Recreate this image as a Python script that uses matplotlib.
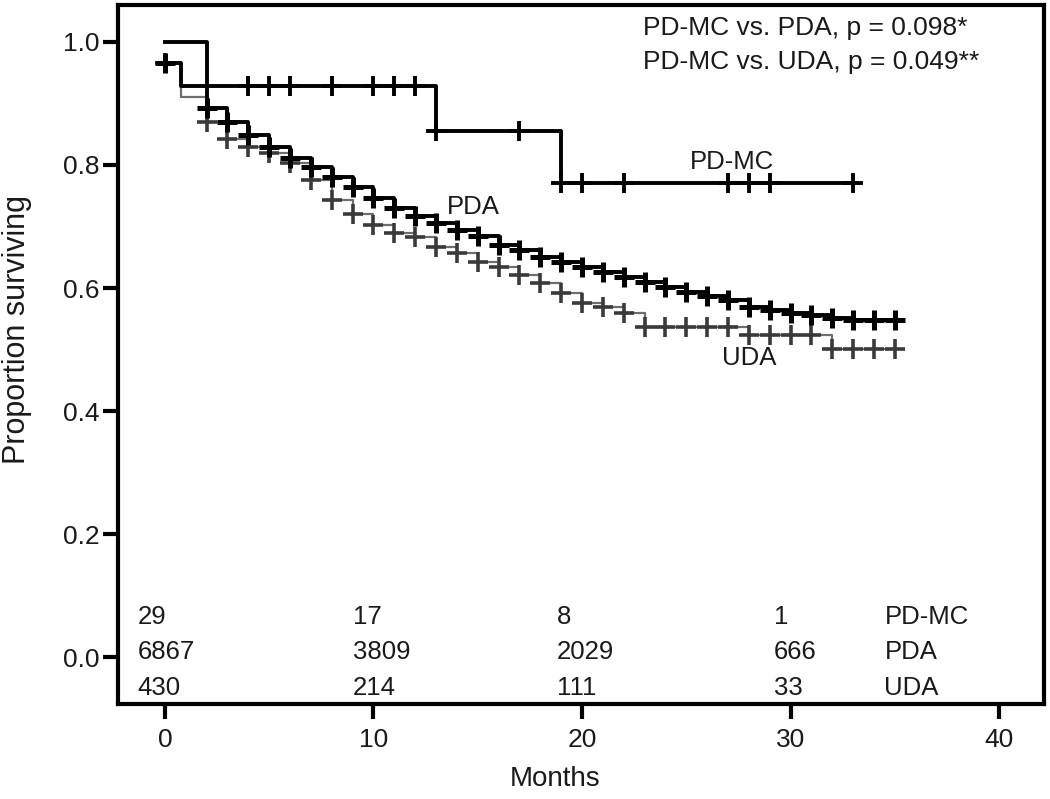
import numpy as np
import matplotlib

matplotlib.use("Agg")
import matplotlib.pyplot as plt
from matplotlib import font_manager


# survival curves (months, proportion surviving), step after each time
pdmc_t = [0, 2, 13, 19, 33]
pdmc_s = [1.0, 0.928, 0.855, 0.770, 0.770]
pdmc_cens = [4, 5, 6, 8, 10, 11, 12, 13, 17, 19, 20, 22, 27, 28, 29, 33]

pda_t = [0, 0.75, 2, 3, 4, 5, 6, 7, 8, 9, 10, 11, 12, 13, 14, 15, 16, 17, 18,
         19, 20, 21, 22, 23, 24, 25, 26, 27, 28, 29, 30, 31, 32, 33, 35]
pda_s = [0.965, 0.928, 0.892, 0.870, 0.849, 0.830, 0.811, 0.797, 0.781, 0.765,
         0.746, 0.730, 0.717, 0.705, 0.694, 0.684, 0.670, 0.662, 0.650, 0.642,
         0.634, 0.626, 0.618, 0.610, 0.602, 0.593, 0.587, 0.580, 0.569, 0.564,
         0.559, 0.556, 0.551, 0.548, 0.548]
pda_cens = [0, 2, 3, 4, 5, 6, 7, 8, 9, 10, 11, 12, 13, 14, 15, 16, 17, 18, 19,
            20, 21, 22, 23, 24, 25, 26, 27, 28, 29, 30, 31, 32, 33, 34, 35]

uda_t = [0, 0.75, 2, 3, 4, 5, 6, 7, 8, 9, 10, 11, 12, 13, 14, 15, 16, 17, 18,
         19, 20, 21, 22, 23, 28, 32, 35]
uda_s = [0.965, 0.911, 0.870, 0.843, 0.830, 0.819, 0.803, 0.776, 0.743, 0.721,
         0.702, 0.690, 0.683, 0.667, 0.657, 0.642, 0.634, 0.621, 0.608, 0.592,
         0.576, 0.569, 0.559, 0.536, 0.524, 0.501, 0.501]
uda_cens = [0, 2, 3, 4, 5, 6, 7, 8, 9, 10, 11, 12, 13, 14, 15, 16, 17, 18, 19,
            20, 21, 22, 23, 24, 25, 26, 27, 28, 29, 30, 31, 32, 33, 34, 35]

# numbers at risk
risk_times = [0, 10, 20, 30]
risk_groups = ["PD-MC", "PDA", "UDA"]
risk_pdmc = [29, 17, 8, 1]
risk_pda = [6867, 3809, 2029, 666]
risk_uda = [430, 214, 111, 33]

x_ticks = [0, 10, 20, 30, 40]
y_ticks = [0.0, 0.2, 0.4, 0.6, 0.8, 1.0]
p_lines = ["PD-MC vs. PDA, p = 0.098*", "PD-MC vs. UDA, p = 0.049**"]


def level_at(times, surv, when):
    idx = np.searchsorted(np.asarray(times), np.asarray(when), side="right") - 1
    return np.asarray(surv)[np.clip(idx, 0, len(surv) - 1)]


names = {f.name for f in font_manager.fontManager.ttflist}
family = "Liberation Sans" if "Liberation Sans" in names else "DejaVu Sans"
plt.rcParams["font.family"] = [family, "DejaVu Sans"]
text_color = "#1a1a1a"

fig = plt.figure(figsize=(10.5, 7.99), dpi=100)
ax = fig.add_axes([118 / 1050, 1 - 704 / 799, 926 / 1050, 699 / 799])
ax.set_xlim(-2.25, 42.15)
ax.set_ylim(-0.076, 1.060)

# UDA (grey)
ax.step(uda_t, uda_s, where="post", color="#6e6e6e", lw=1.6, zorder=2)
ax.plot(uda_cens, level_at(uda_t, uda_s, uda_cens), ls="none", marker="+",
        ms=14, mew=2.6, color="#3a3a3a", zorder=3)

# PDA (black, heavy)
ax.step(pda_t, pda_s, where="post", color="black", lw=2.8, zorder=4)
ax.plot(pda_cens, level_at(pda_t, pda_s, pda_cens), ls="none", marker="+",
        ms=14, mew=3.6, color="black", zorder=5)

# PD-MC
ax.step(pdmc_t, pdmc_s, where="post", color="black", lw=2.8, zorder=6)
ax.plot(pdmc_cens, level_at(pdmc_t, pdmc_s, pdmc_cens), ls="none", marker="+",
        ms=14, mew=2.8, color="black", zorder=7)

# curve labels
ax.text(27.2, 0.805, "PD-MC", ha="center", va="center", fontsize=18.5, color=text_color)
ax.text(14.8, 0.732, "PDA", ha="center", va="center", fontsize=18.5, color=text_color)
ax.text(28.0, 0.486, "UDA", ha="center", va="center", fontsize=18.5, color=text_color)

# p-values
ax.text(22.9, 1.023, p_lines[0], ha="left", va="center", fontsize=19, color=text_color)
ax.text(22.9, 0.967, p_lines[1], ha="left", va="center", fontsize=19, color=text_color)

# numbers-at-risk table
risk_rows = [risk_pdmc, risk_pda, risk_uda]
row_y = [0.065, 0.008, -0.050]
col_x = [-1.3, 9.0, 18.8, 29.2]
for row, yy, name in zip(risk_rows, row_y, risk_groups):
    for xx, n in zip(col_x, row):
        ax.text(xx, yy, str(n), ha="left", va="center", fontsize=18.5, color=text_color)
    ax.text(34.5, yy, name, ha="left", va="center", fontsize=18.5, color=text_color)

ax.set_xticks(x_ticks)
ax.set_yticks(y_ticks)
ax.set_yticklabels([f"{v:.1f}" for v in y_ticks])
ax.tick_params(axis="both", direction="out", length=11, width=3, labelsize=19,
               colors="black", labelcolor=text_color)
ax.tick_params(axis="x", pad=6)
ax.tick_params(axis="y", pad=2)
for spine in ax.spines.values():
    spine.set_linewidth(3)
    spine.set_color("black")

ax.set_xlabel("Months", fontsize=20, color=text_color)
ax.xaxis.set_label_coords((555 - 118) / 926, -(766 - 704) / 699)
ax.set_ylabel("Proportion surviving", fontsize=22, color=text_color)
ax.yaxis.set_label_coords(-(118 - 32) / 926, (704 - 330) / 699)

fig.savefig("out.png", dpi=100, facecolor="white")
plt.close(fig)
